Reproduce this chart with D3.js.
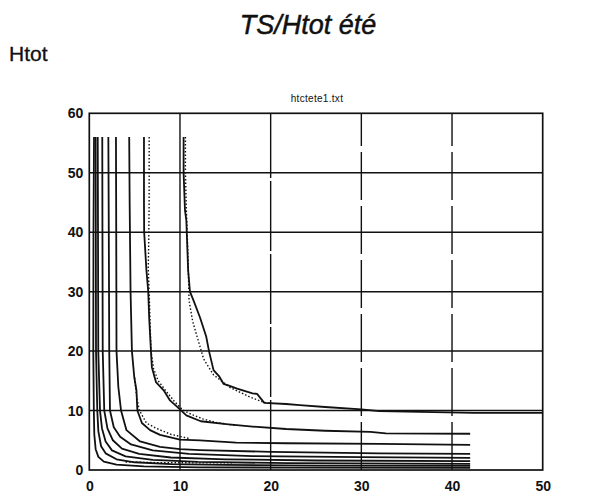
<!DOCTYPE html>
<html><head><meta charset="utf-8">
<script src="https://cdn.jsdelivr.net/npm/d3@7"></script>
<style>body{margin:0;background:#fff}svg{display:block}</style>
</head><body>
<script>
const xTicks = [0,10,20,30,40,50];
const yTicks = [0,10,20,30,40,50,60];
const titleText = "TS/Htot été";
const yLabelText = "Htot";
const subtitleText = "htctete1.txt";

// solid curves [x, Htot]
const curveA = [[10.4,56],[10.4,50],[10.55,43.7],[10.7,42],[10.9,33.6],[11.1,30],[11.5,28.5],[12.2,25.7],[12.9,22.4],[13.2,20],[13.7,16.8],[14.3,15.8],[14.8,14.5],[15.4,14.2],[16.3,13.7],[18,12.9],[18.5,12.8],[19.3,11.3],[21.7,11.1],[23.2,10.9],[26,10.6],[30,10.2],[32,9.9],[42.4,9.6],[50,9.6]];
const curveB = [[6.03,56],[6.03,45],[6.05,40],[6.3,33.6],[6.5,30],[6.6,25.7],[6.8,20],[6.9,17.3],[7.35,14.8],[8.2,13.4],[8.9,11.7],[10,10.2],[10.7,9.2],[12.3,8.2],[15.1,7.7],[18,7.3],[21.7,6.9],[26,6.6],[31,6.4],[32.7,6.15],[42,6.1]];
const curveC = [[4.4,56],[4.45,45],[4.55,30],[4.7,20],[4.96,15.6],[5.2,13.4],[5.3,10],[5.8,7.9],[6.7,6.7],[7.8,5.9],[10,5.1],[12.2,5.0],[16.2,4.6],[21.7,4.5],[32,4.4],[42,4.24]];
const curveD = [[2.94,56],[2.97,40],[3.0,20],[3.2,14],[3.5,10],[4.1,6.7],[5.6,4.8],[7.8,3.9],[10,3.5],[12.2,3.35],[20,3.05],[32,2.8],[42,2.7]];
const curveE = [[2.1,56],[2.15,40],[2.2,20],[2.28,10],[2.7,7.2],[3.4,5.6],[4.6,4.3],[7,3.3],[11,2.7],[18,2.35],[30,2.15],[42,2.05]];
const curveF = [[1.43,56],[1.45,40],[1.48,20],[1.65,10],[2.0,7],[2.6,5],[3.6,3.6],[5.5,2.7],[9,2.1],[15,1.8],[25,1.6],[42,1.48]];
const curveG = [[0.93,56],[0.96,40],[0.99,20],[1.18,10],[1.4,7],[1.8,4.8],[2.5,3.3],[4,2.3],[7,1.7],[12,1.35],[22,1.15],[42,1.04]];
const curveH = [[0.7,56],[0.72,40],[0.74,20],[0.88,10],[1.0,6.5],[1.3,4],[1.8,2.8],[3,1.8],[5,1.3],[9,1.0],[15,0.85],[25,0.75],[42,0.7]];
const curveI = [[0.52,56],[0.46,40],[0.44,20],[0.5,10],[0.55,6],[0.7,3.5],[1.0,2.2],[1.6,1.4],[3,0.9],[6,0.6],[12,0.45],[22,0.4],[42,0.37]];

// dotted companion curves
const dotA = [[10.6,56],[10.6,50],[10.7,44],[10.9,35],[11.0,28.5],[11.4,25],[11.8,22.9],[12.6,18.7],[13.7,16],[15.5,13.9],[17.7,12.3],[19.2,11.4],[20,11.2]];
const dotB = [[6.6,56],[6.6,45],[6.55,38],[6.5,34],[6.6,30],[6.8,20],[7.1,17],[7.6,15],[8.5,13.2],[9.4,11.5],[10.3,10.1],[11.2,9.4],[12.5,8.6],[14,8.0],[16,7.5]];
const dotC = [[5.0,15.5],[5.2,12.6],[5.5,10.1],[6.3,7.9],[7.4,7.0],[9,6.0],[11,5.3]];
const dotG = [[4,1.35],[7,1.25],[12,1.2],[16,1.2]];

const solidCurves = [curveA,curveB,curveC,curveD,curveE,curveF,curveG,curveH,curveI];
const dottedCurves = [dotA,dotB,dotC,dotG];

const W = 615, H = 497;
const svg = d3.select("body").append("svg").attr("width",W).attr("height",H);
const x = d3.scaleLinear().domain([0,50]).range([89.3,542.7]);
const y = d3.scaleLinear().domain([0,60]).range([470,113.3]);
const ink = "#111";
const ff = "Liberation Sans, Arial, sans-serif";

svg.append("text").attr("x",308).attr("y",34).attr("text-anchor","middle")
  .attr("font-family",ff).attr("font-style","italic")
  .attr("font-size",27).attr("fill",ink).attr("stroke",ink).attr("stroke-width",0.5).text(titleText);
svg.append("text").attr("x",9).attr("y",61)
  .attr("font-family",ff)
  .attr("font-size",21).attr("fill",ink).attr("stroke",ink).attr("stroke-width",0.3).text(yLabelText);
svg.append("text").attr("x",317).attr("y",102).attr("text-anchor","middle")
  .attr("font-family",ff)
  .attr("font-size",10).attr("letter-spacing",0.3).attr("fill",ink).text(subtitleText);

const g = svg.append("g");
// horizontal grid
g.selectAll(".hg").data(yTicks.filter(d=>d>0&&d<60)).join("line")
  .attr("x1",x(0)).attr("x2",x(50)).attr("y1",d=>y(d)).attr("y2",d=>y(d))
  .attr("stroke",ink).attr("stroke-width",1.5);
// vertical grid
g.selectAll(".vg").data(xTicks.filter(d=>d>0&&d<50)).join("line")
  .attr("y1",y(0)).attr("y2",y(60)).attr("x1",d=>x(d)).attr("x2",d=>x(d))
  .attr("stroke",ink).attr("stroke-width",1.4)
  .attr("stroke-dasharray",d=>d<=10?null:(d===20?"70,3":"48,6"));

// axes (labels only; frame drawn as rect)
const xAxis = d3.axisBottom(x).tickValues(xTicks).tickSize(0).tickPadding(9);
const yAxis = d3.axisLeft(y).tickValues(yTicks).tickSize(0).tickPadding(6);
const gx = svg.append("g").attr("transform",`translate(0,${y(0)})`).call(xAxis);
const gy = svg.append("g").attr("transform",`translate(${x(0)},0)`).call(yAxis);
[gx,gy].forEach(a=>{a.select(".domain").remove();
  a.selectAll("text").attr("font-family",ff).attr("font-size",14).attr("font-weight","bold").attr("fill",ink);});
gx.selectAll("text").attr("dy","0.85em");

svg.append("rect").attr("x",x(0)).attr("y",y(60)).attr("width",x(50)-x(0)).attr("height",y(0)-y(60))
  .attr("fill","none").attr("stroke",ink).attr("stroke-width",1.7);

const line = d3.line().x(d=>x(d[0])).y(d=>y(d[1]));
svg.append("g").selectAll("path").data(solidCurves).join("path")
  .attr("d",line).attr("fill","none").attr("stroke",ink).attr("stroke-width",1.8).attr("stroke-linejoin","round");
svg.append("g").selectAll("path").data(dottedCurves).join("path")
  .attr("d",line).attr("fill","none").attr("stroke",ink).attr("stroke-width",1.4).attr("stroke-dasharray","1.5,2");
</script>
</body></html>
